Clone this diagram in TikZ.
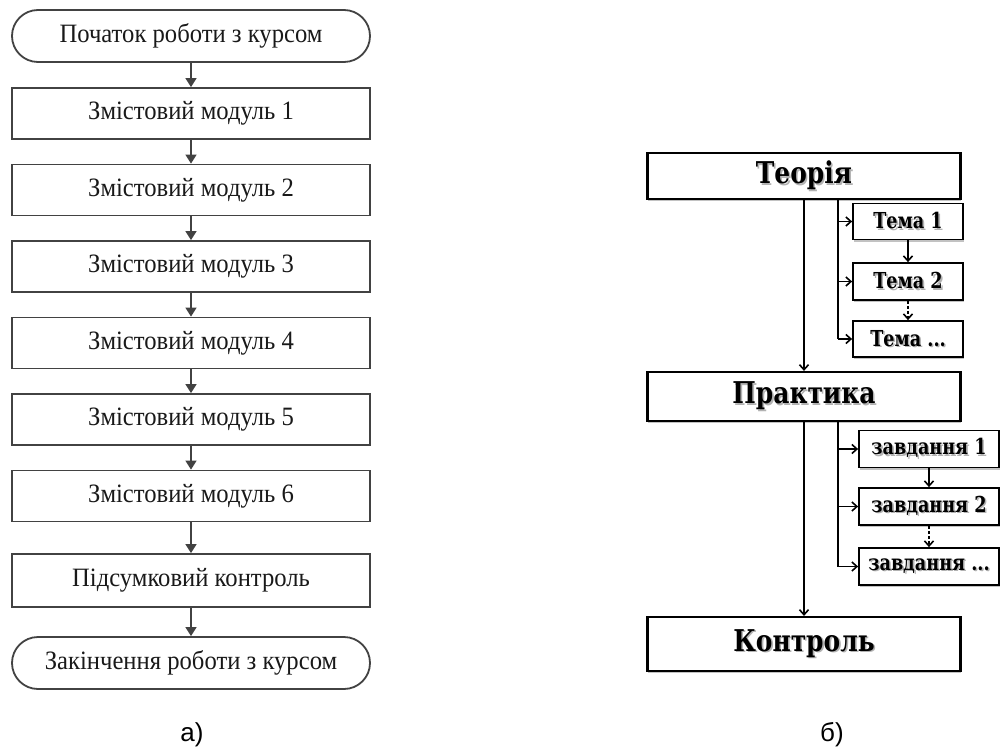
\documentclass[tikz,border=0pt]{standalone}
\usepackage{fontspec}
\setmainfont{Liberation Serif}[FakeStretch=0.93]
\newfontfamily\hfont{DejaVu Serif}[FakeStretch=0.83]
\newfontfamily\sfont{DejaVu Serif}[FakeStretch=0.8]
\newfontfamily\lblfont{Liberation Sans}
\usetikzlibrary{arrows.meta,shapes.misc,shadows}
\definecolor{lgray}{RGB}{66,66,66}
\newcommand\shd[1]{\leavevmode\rlap{\kern1.6pt\raisebox{-1.6pt}{\textcolor{black!30}{#1}}}#1}
\begin{document}
\begin{tikzpicture}[x=1pt,y=-1pt,
  lbox/.style={draw=lgray, line width=1.8pt, minimum width=358pt, minimum height=51pt,
    inner sep=0pt, text=black!90, font=\fontsize{26.5}{28}\selectfont},
  lterm/.style={lbox, rounded rectangle, minimum height=52pt},
  larr/.style={draw=lgray, line width=1.5pt, -{Triangle[length=9pt,width=11pt]}},
  rbase/.style={draw=black, line width=2.2pt, fill=white, inner sep=0pt,
    drop shadow={shadow xshift=0.8pt, shadow yshift=-2pt, fill=black!40, opacity=0.6}},
  rbox/.style={rbase, minimum width=313pt, font=\hfont\bfseries\fontsize{30}{32}\selectfont},
  sbox/.style={rbase, line width=1.8pt, minimum height=36pt, font=\sfont\bfseries\fontsize{22}{24}\selectfont},
  rline/.style={line width=1.6pt},
  rarr/.style={line width=1.6pt, -{Straight Barb[length=5pt,width=9pt]}}
]
\useasboundingbox (0,0) rectangle (1001,754);

% ---- a) ----
\node[lterm] (t1) at (191,36) {Початок роботи з курсом};
\node[lbox] (m1) at (191,113.5) {Змістовий модуль 1};
\node[lbox] (m2) at (191,190) {Змістовий модуль 2};
\node[lbox] (m3) at (191,266.5) {Змістовий модуль 3};
\node[lbox] (m4) at (191,343) {Змістовий модуль 4};
\node[lbox] (m5) at (191,419.5) {Змістовий модуль 5};
\node[lbox] (m6) at (191,496) {Змістовий модуль 6};
\node[lbox, minimum height=53pt] (m7) at (191,580.5) {Підсумковий контроль};
\node[lterm] (t2) at (191,663) {Закінчення роботи з курсом};
\draw[larr] (t1.south) -- (m1.north);
\draw[larr] (m1.south) -- (m2.north);
\draw[larr] (m2.south) -- (m3.north);
\draw[larr] (m3.south) -- (m4.north);
\draw[larr] (m4.south) -- (m5.north);
\draw[larr] (m5.south) -- (m6.north);
\draw[larr] (m6.south) -- (m7.north);
\draw[larr] (m7.south) -- (t2.north);

% ---- b) ----
\node[rbox, minimum height=46pt] (th) at (804,176) {\shd{Теорія}};
\node[rbox, minimum height=49pt] (pr) at (804,396.5) {\shd{Практика}};
\node[rbox, minimum height=54pt] (k) at (804,644) {\shd{Контроль}};

\node[sbox, minimum width=110pt] (tm1) at (908,221.5) {\shd{Тема 1}};
\node[sbox, minimum width=110pt, minimum height=37pt] (tm2) at (908,281.5) {\shd{Тема 2}};
\node[sbox, minimum width=110pt] (tm3) at (908,339) {\shd{Тема ...}};

\node[sbox, minimum width=140pt, minimum height=37pt] (z1) at (929,449) {\shd{завдання 1}};
\node[sbox, minimum width=140pt, minimum height=37pt] (z2) at (929,506.5) {\shd{завдання 2}};
\node[sbox, minimum width=140pt, minimum height=37pt] (z3) at (929,566.5) {\shd{завдання ...}};

\coordinate (bx) at (838,0);

\draw[rarr] (th.south) -- (pr.north);
\draw[rarr] (pr.south) -- (k.north);

\draw[rline] (th.south -| bx) -- (tm3.west -| bx);
\draw[rarr] (tm1.west -| bx) -- (tm1.west);
\draw[rarr] (tm2.west -| bx) -- (tm2.west);
\draw[rarr] (tm3.west -| bx) -- (tm3.west);
\draw[rarr] (tm1.south) -- (tm2.north);
\draw[rarr, dash pattern=on 3pt off 2pt] (tm2.south) -- (tm3.north);

\draw[rline] (pr.south -| bx) -- (z3.west -| bx);
\draw[rarr] (z1.west -| bx) -- (z1.west);
\draw[rarr] (z2.west -| bx) -- (z2.west);
\draw[rarr] (z3.west -| bx) -- (z3.west);
\draw[rarr] (z1.south) -- (z2.north);
\draw[rarr, dash pattern=on 3pt off 2pt] (z2.south) -- (z3.north);

% labels
\node[font=\lblfont\fontsize{26}{28}\selectfont, inner sep=0pt] (la) at (192,735) {а)};
\node[font=\lblfont\fontsize{26}{28}\selectfont, inner sep=0pt] (lb) at (832,735) {б)};
\end{tikzpicture}
\end{document}
